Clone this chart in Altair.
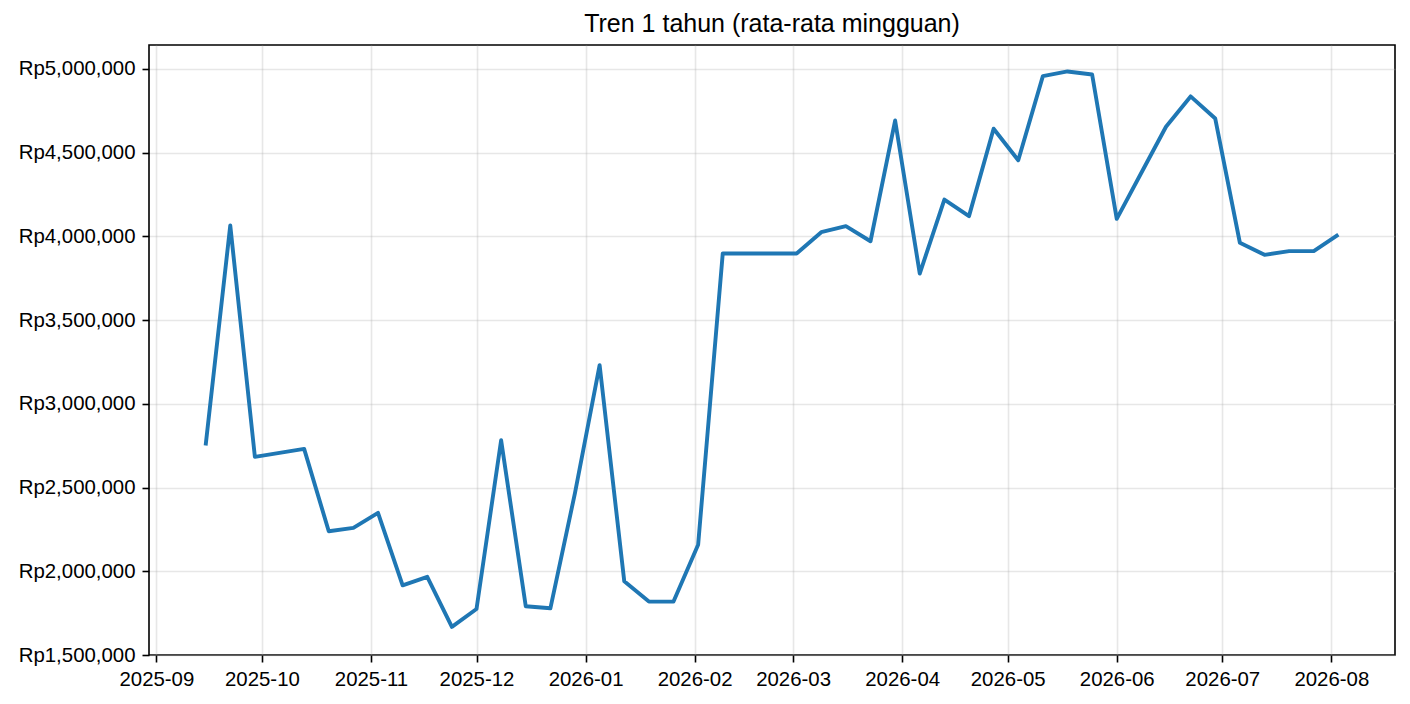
import altair as alt
import pandas as pd

weeks = [
    "2025-09-15", "2025-09-22", "2025-09-29", "2025-10-06", "2025-10-13", "2025-10-20",
    "2025-10-27", "2025-11-03", "2025-11-10", "2025-11-17", "2025-11-24", "2025-12-01",
    "2025-12-08", "2025-12-15", "2025-12-22", "2025-12-29", "2026-01-05", "2026-01-12",
    "2026-01-19", "2026-01-26", "2026-02-02", "2026-02-09", "2026-02-16", "2026-02-23",
    "2026-03-02", "2026-03-09", "2026-03-16", "2026-03-23", "2026-03-30", "2026-04-06",
    "2026-04-13", "2026-04-20", "2026-04-27", "2026-05-04", "2026-05-11", "2026-05-18",
    "2026-05-25", "2026-06-01", "2026-06-08", "2026-06-15", "2026-06-22", "2026-06-29",
    "2026-07-06", "2026-07-13", "2026-07-20", "2026-07-27", "2026-08-03",
]
avg_price = [
    2751000, 4065000, 2683000, 2707000, 2731000, 2239000,
    2259000, 2349000, 1916000, 1967000, 1668000, 1775000,
    2783000, 1791000, 1779000, 2468000, 3231000, 1940000,
    1819000, 1819000, 2158000, 3898000, 3898000, 3898000,
    3898000, 4025000, 4061000, 3971000, 4692000, 3778000,
    4220000, 4121000, 4643000, 4455000, 4957000, 4985000,
    4967000, 4105000, 4380000, 4655000, 4836000, 4704000,
    3962000, 3890000, 3912000, 3912000, 4011000,
]
y_ticks = [1500000, 2000000, 2500000, 3000000, 3500000, 4000000, 4500000, 5000000]
title_text = "Tren 1 tahun (rata-rata mingguan)"

df = pd.DataFrame({"week": [w + "T00:00:00" for w in weeks], "price": avg_price})

FONT = "Liberation Sans"

x_domain = [
    alt.DateTime(year=2025, month=8, date=29, hours=21, minutes=36),
    alt.DateTime(year=2026, month=8, date=19, hours=2, minutes=24),
]

chart = (
    alt.Chart(df)
    .mark_line(color="#1f77b4", strokeWidth=3.9, strokeJoin="round", strokeCap="butt")
    .encode(
        x=alt.X(
            "week:T",
            title=None,
            scale=alt.Scale(domain=x_domain, nice=False),
            axis=alt.Axis(
                format="%Y-%m",
                tickCount={"interval": "month", "step": 1},
                labelFlush=False,
                labelOverlap=False,
            ),
        ),
        y=alt.Y(
            "price:Q",
            title=None,
            scale=alt.Scale(domain=[1500000, 5143000], nice=False, zero=False),
            axis=alt.Axis(
                values=y_ticks,
                labelExpr="'Rp' + format(datum.value, ',')",
            ),
        ),
    )
    .properties(
        width=1246,
        height=610,
        title=alt.TitleParams(
            title_text,
            font=FONT,
            fontSize=25,
            fontWeight="normal",
            color="black",
            anchor="middle",
            frame="group",
            baseline="bottom",
            offset=9,
            dy=26,
        ),
        autosize=alt.AutoSizeParams(type="none"),
        padding={"left": 141, "top": 37, "right": 7, "bottom": 40},
    )
    .configure_view(stroke="black", strokeWidth=1.6)
    .configure_axis(
        domain=False,
        grid=True,
        gridColor="#b0b0b0",
        gridOpacity=0.3,
        gridWidth=1.6,
        ticks=True,
        tickColor="black",
        tickWidth=1.6,
        tickSize=7,
        labelPadding=7,
        labelFont=FONT,
        labelFontSize=20.4,
        labelColor="black",
    )
)

chart.save("out.html", embed_options={"renderer": "svg", "actions": False})
